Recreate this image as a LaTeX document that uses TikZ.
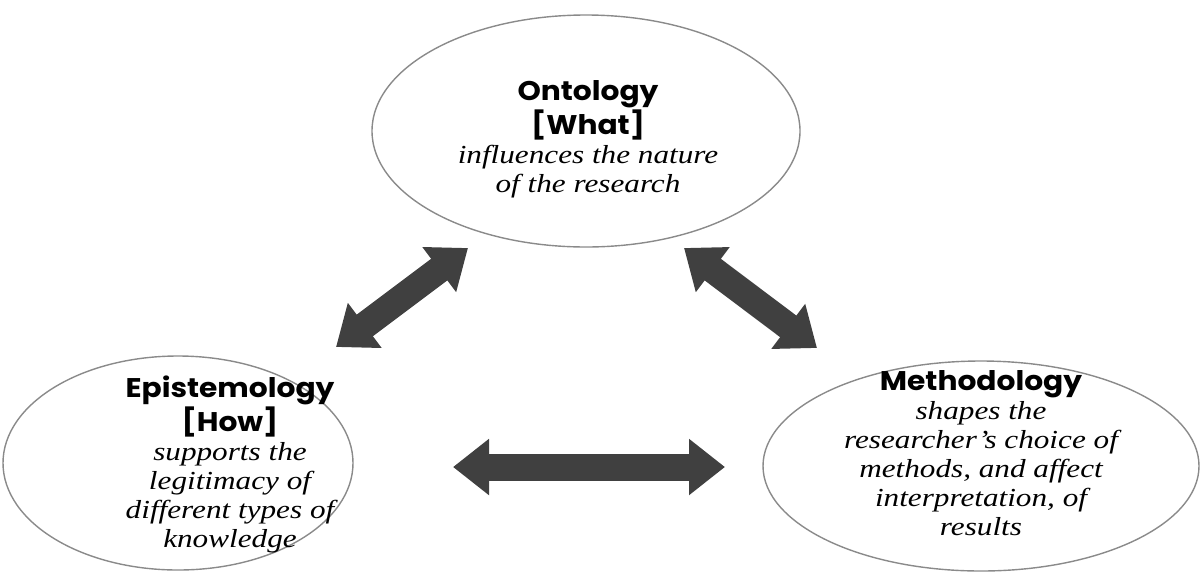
\documentclass[tikz,border=0pt]{standalone}
\usepackage{fontspec}
\usetikzlibrary{arrows.meta,shapes.geometric}
\newfontfamily\headfont{Poppins}[FakeStretch=1.1]
\newfontfamily\bodyfont{Liberation Serif}[FakeStretch=1.2]
\definecolor{arrowgrey}{HTML}{404040}
\definecolor{rimgrey}{HTML}{8A8A8A}
\tikzset{
  oval/.style={ellipse, draw=rimgrey, line width=0.7pt, inner sep=0pt},
  label text/.style={align=center, inner sep=0pt, font=\bodyfont\itshape\fontsize{13}{14.5}\selectfont},
  bigarrow/.style={draw=arrowgrey, line width=13.5pt,
    {Triangle[length=18pt,width=27pt,fill=arrowgrey]}-{Triangle[length=18pt,width=27pt,fill=arrowgrey]}},
}
\newcommand{\head}[1]{{\headfont\upshape\bfseries\fontsize{13.5}{14.5}\selectfont #1}}
\begin{document}
\begin{tikzpicture}[x=0.5pt,y=-0.5pt]
\useasboundingbox (0,0) rectangle (1203,574);
\node[oval, minimum width=214pt, minimum height=116pt] (onto) at (586,131) {};
\node[oval, minimum width=175pt, minimum height=107pt] (epis) at (178,463) {};
\node[oval, minimum width=218pt, minimum height=105pt] (meth) at (981,466) {};
\node[label text] (ontoT) at (588,139) {\head{Ontology}\\ \head{[What]}\\ influences the nature\\ of the research};
\node[label text] (episT) at (230,464) {\head{Epistemology}\\ \head{[How]}\\ supports the\\ legitimacy of\\ different types of\\ knowledge};
\node[label text] (methT) at (981,453) {\head{Methodology}\\ shapes the\\ researcher’s choice of\\ methods, and affect\\ interpretation, of\\ results};
\coordinate (l1) at (336,347);
\coordinate (l2) at (468,248);
\coordinate (r1) at (684,248);
\coordinate (r2) at (817,348);
\coordinate (h1) at (453,467);
\coordinate (h2) at (725,467);
\draw[bigarrow] (l1) -- (l2);
\draw[bigarrow] (r1) -- (r2);
\draw[bigarrow] (h1) -- (h2);
\end{tikzpicture}
\end{document}
